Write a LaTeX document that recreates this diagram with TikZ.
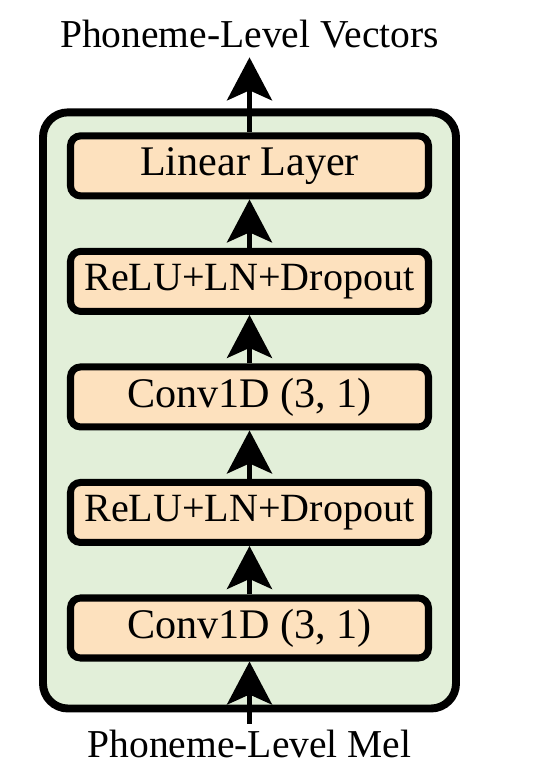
\documentclass[tikz,border=0pt]{standalone}
\usepackage{fontspec}
\setmainfont{Liberation Serif}
\usetikzlibrary{arrows.meta, positioning, fit, backgrounds}
\definecolor{layerfill}{RGB}{253,225,190}
\definecolor{groupfill}{RGB}{226,239,217}

\begin{document}
\begin{tikzpicture}[
    font=\fontsize{22.5}{27}\selectfont,
    layer/.style={rectangle, draw=black, fill=layerfill, line width=4pt, rounded corners=2mm, minimum width=7.16cm, minimum height=1.2cm, inner sep=0pt, align=center, font=\fontsize{24}{28}\selectfont},
    narrowlayer/.style={layer, font=\fontsize{22.8}{27}\selectfont},
    arrow/.style={-{Stealth[length=0.86cm, width=0.9cm, inset=0.2cm]}, line width=2.8pt, draw=black},
    group/.style={rectangle, draw=black, fill=groupfill, line width=4.5pt, rounded corners=5mm, inner xsep=0.48cm, inner ysep=0.4cm},
    iolabel/.style={inner sep=0.18cm}
]
\useasboundingbox (-4.99,-2.8) rectangle (5.97,12.56);

% Layer stack
\node[layer] (conv1) {Conv1D (3, 1)};
\node[narrowlayer, above=0.97cm of conv1] (relu1) {ReLU+LN+Dropout};
\node[layer, above=0.97cm of relu1] (conv2) {Conv1D (3, 1)};
\node[narrowlayer, above=0.97cm of conv2] (relu2) {ReLU+LN+Dropout};
\node[layer, above=0.97cm of relu2] (linear) {Linear Layer};
\coordinate[below=0.54cm of conv1] (pad);
\begin{scope}[on background layer]
    \node[group, fit=(linear)(conv1)(pad)] (stack) {};
\end{scope}

% Input and output
\node[iolabel, inner sep=0.12cm, below=1.24cm of conv1] (mel) {Phoneme-Level Mel};
\node[iolabel, above=1.5cm of linear] (vectors) {Phoneme-Level Vectors};

\foreach \a/\b in {mel/conv1, conv1/relu1, relu1/conv2, conv2/relu2, relu2/linear, linear/vectors}
    \draw[arrow] (\a) -- (\b);

\end{tikzpicture}
\end{document}
